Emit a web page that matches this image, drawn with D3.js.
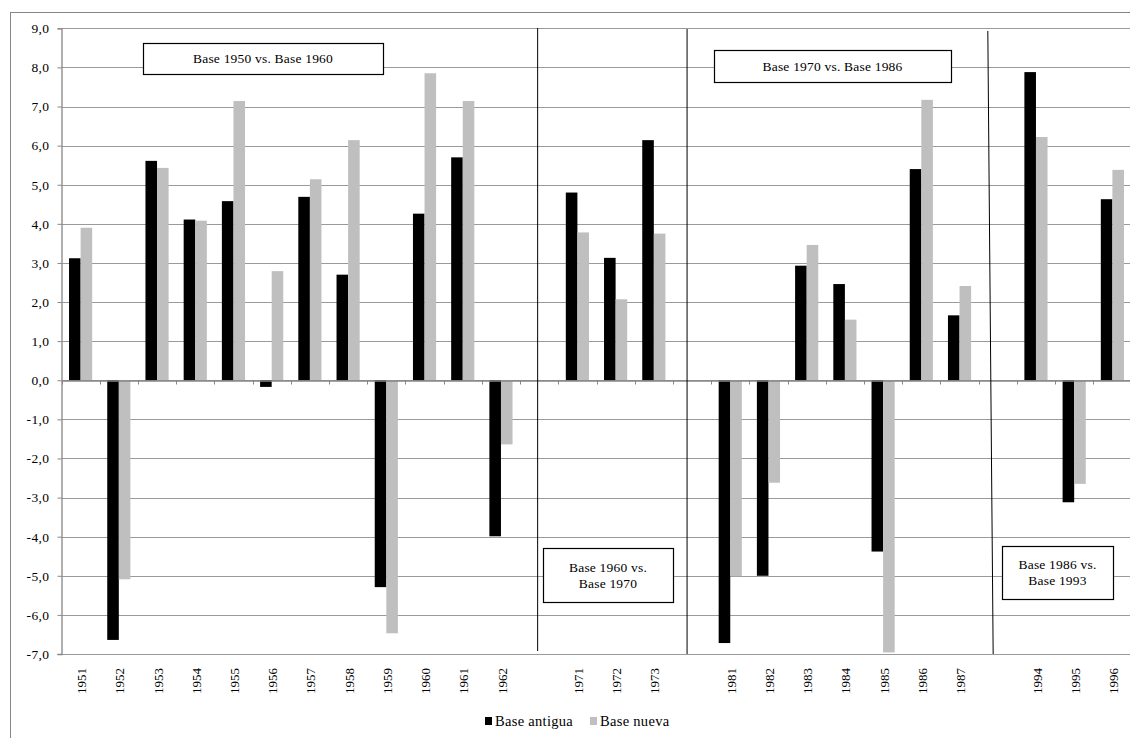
<!DOCTYPE html>
<html>
<head>
<meta charset="utf-8">
<script src="https://cdn.jsdelivr.net/npm/d3@7"></script>
<style>
  html, body { margin: 0; padding: 0; background: #fff; }
  svg { display: block; }
  text { font-family: "Liberation Serif", "Times New Roman", serif; fill: #000; }
</style>
</head>
<body>
<svg id="chart" width="1130" height="738"></svg>
<script>
// ---- data ----
const categories = ["1951","1952","1953","1954","1955","1956","1957","1958","1959","1960","1961","1962",
  "gap1","1971","1972","1973","gap2","1981","1982","1983","1984","1985","1986","1987","gap3","1994","1995","1996"];
const baseAntigua = [3.12,-6.64,5.61,4.11,4.58,-0.17,4.69,2.70,-5.29,4.26,5.70,-3.99,
  null,4.80,3.13,6.14,null,-6.72,-5.00,2.93,2.46,-4.38,5.40,1.66,null,7.88,-3.12,4.63];
const baseNueva = [3.90,-5.09,5.43,4.08,7.14,2.79,5.14,6.14,-6.47,7.85,7.14,-1.64,
  null,3.78,2.07,3.75,null,-5.01,-2.62,3.46,1.55,-6.96,7.17,2.41,null,6.22,-2.65,5.38];
const seriesNames = ["Base antigua","Base nueva"];
const seriesColors = ["#000000","#bfbfbf"];
const yTicks = [-7,-6,-5,-4,-3,-2,-1,0,1,2,3,4,5,6,7,8,9];
const annotations = [
  {lines:["Base 1950 vs. Base 1960"], x0:143, x1:383, y0:43, y1:74},
  {lines:["Base 1970 vs. Base 1986"], x0:714, x1:951, y0:50, y1:82},
  {lines:["Base 1960 vs.","Base 1970"], x0:543, x1:673, y0:548, y1:602},
  {lines:["Base 1986 vs.","Base 1993"], x0:1002, x1:1113, y0:546, y1:599}
];

(function draw() {
const svg = d3.select("#chart");
const pLeft = 61.5, pRight = 1131.5, pTop = 28.3, pBottom = 654;

const x = d3.scaleBand().domain(categories).range([pLeft, pRight]).padding(0);
const xs = d3.scaleBand().domain(seriesNames).range([0, x.bandwidth()]).paddingInner(0).paddingOuter(0.65);
const y = d3.scaleLinear().domain([-7, 9]).range([pBottom, pTop]);

// outer border
svg.append("rect").attr("x", 10.5).attr("y", 12.5).attr("width", 1130).attr("height", 740)
  .attr("fill", "none").attr("stroke", "#868686");

// gridlines
svg.append("g").selectAll("line").data(yTicks).join("line")
  .attr("x1", pLeft).attr("x2", 1130)
  .attr("y1", d => Math.round(y(d)) + 0.5).attr("y2", d => Math.round(y(d)) + 0.5)
  .attr("stroke", "#9a9a9a").attr("stroke-width", 1);

// y axis
const yAxis = svg.append("g").attr("transform", `translate(${Math.round(pLeft) - 0.5},0)`)
  .call(d3.axisLeft(y).tickValues(yTicks).tickSize(4).tickPadding(8)
    .tickFormat(d => d3.format(".1f")(d).replace(".", ",").replace("−", "-")));
yAxis.select(".domain").attr("stroke", "#868686").attr("stroke-width", 1.3);
yAxis.selectAll(".tick line").attr("stroke", "#868686");
yAxis.selectAll(".tick text").style("font-size", "13.5px").style("letter-spacing", "0.4px")
  .style("font-family", "'Liberation Serif', serif");

// bars
const data = categories.map((c, i) => ({cat: c, vals: [baseAntigua[i], baseNueva[i]]}));
const groups = svg.append("g").selectAll("g").data(data.filter(d => d.vals[0] !== null)).join("g")
  .attr("transform", d => `translate(${x(d.cat)},0)`);
groups.selectAll("rect").data(d => d.vals.map((v, k) => ({v, k}))).join("rect")
  .attr("x", d => xs(seriesNames[d.k]))
  .attr("width", xs.bandwidth())
  .attr("y", d => Math.min(y(d.v), y(0)))
  .attr("height", d => Math.abs(y(d.v) - y(0)))
  .attr("fill", d => seriesColors[d.k]);

// x axis
const y0 = Math.round(y(0)) + 0.5;
const xAxis = svg.append("g").attr("transform", `translate(0,${y0})`)
  .call(d3.axisBottom(x).tickSize(0).tickFormat(() => ""));
xAxis.select(".domain").attr("stroke", "#868686").attr("stroke-width", 1.5);
// boundary ticks
svg.append("g").selectAll("line").data(d3.range(categories.length + 1)).join("line")
  .attr("x1", i => Math.round(pLeft + i * x.step()) + 0.5)
  .attr("x2", i => Math.round(pLeft + i * x.step()) + 0.5)
  .attr("y1", y0).attr("y2", y0 + 4)
  .attr("stroke", "#868686");

// x labels (rotated)
svg.append("g").selectAll("text").data(categories.filter(c => !c.startsWith("gap"))).join("text")
  .attr("transform", d => `translate(${x(d) + x.bandwidth() / 2 + 1},668) rotate(-90)`)
  .attr("text-anchor", "end").attr("dy", "0.35em")
  .style("font-size", "13px").text(d => d);

// separator lines
const sepDefs = [
  {gap: "gap1", f0: 0.46, f1: 0.46, yTop: 28, yBot: 651},
  {gap: "gap2", f0: 0.37, f1: 0.37, yTop: 29, yBot: 654},
  {gap: "gap3", f0: 0.24, f1: 0.38, yTop: 31, yBot: 654}
];
svg.append("g").selectAll("line").data(sepDefs).join("line")
  .attr("x1", d => x(d.gap) + d.f0 * x.bandwidth())
  .attr("x2", d => x(d.gap) + d.f1 * x.bandwidth())
  .attr("y1", d => d.yTop).attr("y2", d => d.yBot)
  .attr("stroke", "#000").attr("stroke-width", 1);

// annotation boxes
const ann = svg.append("g").selectAll("g").data(annotations).join("g");
ann.append("rect")
  .attr("x", d => d.x0 + 0.5).attr("y", d => d.y0 + 0.5)
  .attr("width", d => d.x1 - d.x0).attr("height", d => d.y1 - d.y0)
  .attr("fill", "#fff").attr("stroke", "#000").attr("stroke-width", 1.2);
ann.each(function(d) {
  const g = d3.select(this);
  const cx = (d.x0 + d.x1) / 2, cy = (d.y0 + d.y1) / 2;
  const lh = 16;
  d.lines.forEach((t, i) => {
    g.append("text").attr("x", cx).attr("y", cy + (i - (d.lines.length - 1) / 2) * lh)
      .attr("dy", "0.35em").attr("text-anchor", "middle")
      .style("font-size", "13.5px").style("letter-spacing", "0.2px").text(t);
  });
});

// legend
const legendX = [485, 590];
const leg = svg.append("g").selectAll("g").data(seriesNames).join("g")
  .attr("transform", (d, i) => `translate(${legendX[i]},717)`);
leg.append("rect").attr("width", 7).attr("height", 8).attr("fill", (d, i) => seriesColors[i]);
leg.append("text").attr("x", 10).attr("y", 4).attr("dy", "0.35em")
  .style("font-size", "14.5px").style("letter-spacing", "0.3px").text(d => d);
})();
</script>
</body>
</html>
